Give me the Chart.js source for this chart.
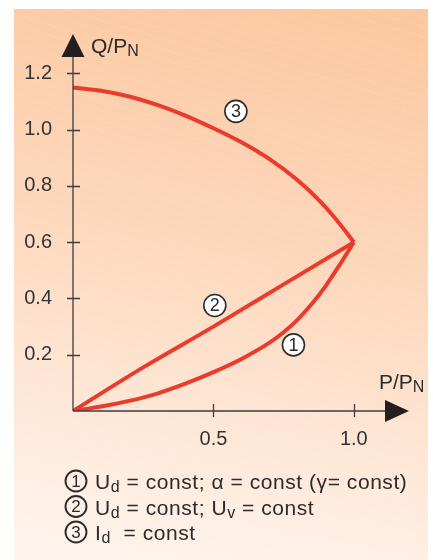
<!DOCTYPE html>
<html>
<head>
<meta charset="utf-8">
<script src="https://cdn.jsdelivr.net/npm/chart.js@4.4.1/dist/chart.umd.min.js"></script>
<style>
  body { margin: 0; background: #ffffff; }
  #wrap { width: 433px; height: 560px; }
</style>
</head>
<body>
<div id="wrap"><canvas id="qChart" width="433" height="560"></canvas></div>
<script>
// P/PN and Q/PN readings of the three curves
const curve1P = [0, 0.1, 0.2, 0.3, 0.4, 0.5, 0.6, 0.7, 0.75, 0.8, 0.85, 0.9, 0.95, 1.0];
const curve1Q = [0, 0.016, 0.036, 0.062, 0.097, 0.138, 0.185, 0.243, 0.28, 0.325, 0.38, 0.445, 0.52, 0.6];
const curve2P = [0, 0.25, 0.5, 0.75, 1.0];
const curve2Q = [0, 0.155, 0.3, 0.45, 0.6];
const curve3P = [0, 0.1, 0.2, 0.3, 0.4, 0.5, 0.6, 0.7, 0.8, 0.88, 0.95, 1.0];
const curve3Q = [1.15, 1.138, 1.118, 1.088, 1.05, 1.005, 0.955, 0.895, 0.82, 0.745, 0.665, 0.6];

const xTicks = [0.5, 1.0];
const yTicks = [0.2, 0.4, 0.6, 0.8, 1.0, 1.2];

// curve markers ①②③ (data coords)
const markerText = ['1', '2', '3'];
const markerP = [0.785, 0.505, 0.58];
const markerQ = [0.235, 0.375, 1.065];

const legendRows = [
    [{ t: 'U' }, { t: 'd', sub: true }, { t: ' = const; \u03B1 = const (\u03B3= const)' }],
    [{ t: 'U' }, { t: 'd', sub: true }, { t: ' = const; U' }, { t: 'v', sub: true }, { t: ' = const' }],
    [{ t: 'I' }, { t: 'd', sub: true }, { t: '  = const' }]
];

const RED = '#ea3b2c';
const INK = '#2b2b2b';
const FONT = '"Liberation Sans", Arial, sans-serif';

function toPoints(xs, ys) {
    return xs.map(function(x, i) { return { x: x, y: ys[i] }; });
}

function circled(ctx, x, y, txt, fill, r) {
    ctx.save();
    ctx.beginPath();
    ctx.arc(x, y, r, 0, Math.PI * 2);
    if (fill) { ctx.fillStyle = '#ffffff'; ctx.fill(); }
    ctx.lineWidth = fill ? 1.6 : 1.9;
    ctx.strokeStyle = INK;
    ctx.stroke();
    ctx.fillStyle = INK;
    ctx.font = Math.round(r * 1.6) + 'px ' + FONT;
    ctx.textAlign = 'center';
    ctx.textBaseline = 'middle';
    ctx.fillText(txt, x, y + 1);
    ctx.restore();
}

function richText(ctx, x, y, parts, size, spacing) {
    ctx.save();
    ctx.fillStyle = INK;
    ctx.textBaseline = 'alphabetic';
    ctx.textAlign = 'left';
    ctx.letterSpacing = (spacing || 0) + 'px';
    parts.forEach(function(p) {
        ctx.font = (p.sub ? Math.round(size * 0.78) : size) + 'px ' + FONT;
        ctx.fillText(p.t, x, p.sub ? y + 3 : y);
        x += ctx.measureText(p.t).width;
    });
    ctx.restore();
}

const backdrop = {
    id: 'backdrop',
    beforeDraw: function(chart) {
        const ctx = chart.ctx;
        ctx.save();
        ctx.fillStyle = '#ffffff';
        ctx.fillRect(0, 0, chart.width, chart.height);
        const g = ctx.createLinearGradient(270, 0, 160, 560);
        g.addColorStop(0, '#fcc8a0');
        g.addColorStop(0.45, '#fdd8bd');
        g.addColorStop(1, '#fff3eb');
        ctx.fillStyle = g;
        ctx.fillRect(14, 9, 414, 551);
        // faint hatch texture
        ctx.beginPath();
        ctx.rect(14, 9, 414, 551);
        ctx.clip();
        ctx.strokeStyle = 'rgba(255,255,255,0.16)';
        ctx.lineWidth = 1;
        ctx.setLineDash([3, 2]);
        for (let k = -200; k < 700; k += 10) {
            ctx.beginPath();
            ctx.moveTo(0, k);
            ctx.lineTo(433, k + 130);
            ctx.stroke();
        }
        ctx.restore();
    },
    afterDatasetsDraw: function(chart) {
        const ctx = chart.ctx;
        const xs = chart.scales.x, ys = chart.scales.y;
        const x0 = xs.getPixelForValue(0), y0 = ys.getPixelForValue(0);
        const top = chart.chartArea.top, right = chart.chartArea.right;
        ctx.save();
        // axes
        ctx.strokeStyle = '#3c3c3c';
        ctx.lineWidth = 1.3;
        ctx.beginPath();
        ctx.moveTo(x0, y0); ctx.lineTo(x0, top + 20);
        ctx.moveTo(x0, y0); ctx.lineTo(right - 22, y0);
        yTicks.forEach(function(v) {
            const py = Math.round(ys.getPixelForValue(v)) + 0.5;
            ctx.moveTo(x0 - 6, py); ctx.lineTo(x0 + 7, py);
        });
        xTicks.forEach(function(v) {
            const px = Math.round(xs.getPixelForValue(v)) + 0.5;
            ctx.moveTo(px, y0 - 7); ctx.lineTo(px, y0 + 6);
        });
        ctx.stroke();
        // arrow heads
        ctx.fillStyle = '#231f20';
        ctx.beginPath();
        ctx.moveTo(x0, top); ctx.lineTo(x0 - 11.5, top + 23); ctx.lineTo(x0 + 11.5, top + 23);
        ctx.closePath(); ctx.fill();
        ctx.beginPath();
        ctx.moveTo(right - 1, y0); ctx.lineTo(right - 25, y0 - 11); ctx.lineTo(right - 25, y0 + 11);
        ctx.closePath(); ctx.fill();
        // axis titles
        richText(ctx, 91, 53, [{ t: 'Q/P' }, { t: 'N', sub: true }], 21);
        richText(ctx, 379, 389, [{ t: 'P/P' }, { t: 'N', sub: true }], 21);
        // curve markers
        markerText.forEach(function(t, i) {
            circled(ctx, xs.getPixelForValue(markerP[i]), ys.getPixelForValue(markerQ[i]), t, true, 11);
        });
        // legend
        legendRows.forEach(function(row, i) {
            const cy = 481 + i * 25.5;
            circled(ctx, 76, cy, String(i + 1), false, 10.5);
            richText(ctx, 95, cy + 8, row, 21, 0.55);
        });
        ctx.restore();
    }
};

const lineStyle = {
    showLine: true,
    borderColor: RED,
    borderWidth: 4,
    pointRadius: 0,
    cubicInterpolationMode: 'monotone',
    fill: false
};

new Chart(document.getElementById('qChart').getContext('2d'), {
    type: 'scatter',
    data: {
        datasets: [
            Object.assign({ label: '1', data: toPoints(curve1P, curve1Q) }, lineStyle),
            Object.assign({ label: '2', data: toPoints(curve2P, curve2Q) }, lineStyle),
            Object.assign({ label: '3', data: toPoints(curve3P, curve3Q) }, lineStyle)
        ]
    },
    options: {
        responsive: false,
        animation: false,
        layout: { padding: { left: 0, top: 34, right: 23, bottom: 0 } },
        plugins: { legend: { display: false }, tooltip: { enabled: false } },
        scales: {
            x: {
                type: 'linear', min: 0, max: 1.2,
                grid: { display: false, drawTicks: false },
                border: { display: false },
                afterBuildTicks: function(s) { s.ticks = xTicks.map(function(v) { return { value: v }; }); },
                afterFit: function(s) { s.height = 149; },
                ticks: {
                    padding: 16, color: '#333', font: { family: FONT, size: 20 },
                    maxRotation: 0,
                    callback: function(v) { return Number(v).toFixed(1); }
                }
            },
            y: {
                type: 'linear', min: 0, max: 1.34,
                grid: { display: false, drawTicks: false },
                border: { display: false },
                afterBuildTicks: function(s) { s.ticks = yTicks.map(function(v) { return { value: v }; }); },
                afterFit: function(s) { s.width = 73; },
                ticks: {
                    padding: 21, color: '#333', font: { family: FONT, size: 20 },
                    callback: function(v) { return Number(v).toFixed(1); }
                }
            }
        }
    },
    plugins: [backdrop]
});
</script>
</body>
</html>
